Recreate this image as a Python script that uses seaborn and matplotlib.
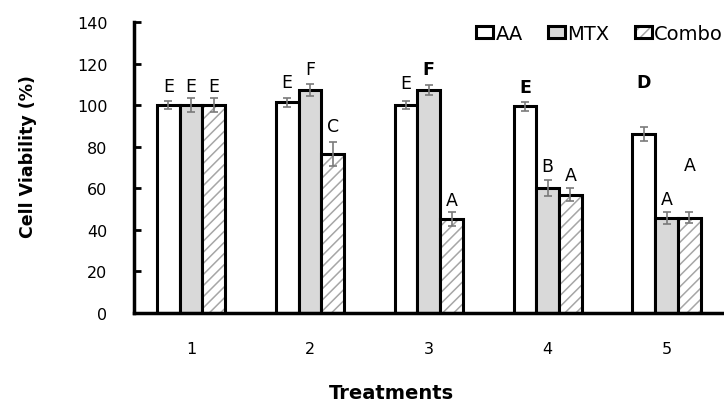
import numpy as np
import pandas as pd
import matplotlib
matplotlib.use("Agg")
import matplotlib.pyplot as plt
import matplotlib.colors as mcolors
import seaborn as sns

# ---- data ----
treatments = ["1", "2", "3", "4", "5"]
groups = ["AA", "MTX", "Combo"]
aa_vals = [100, 101.3, 100, 99.4, 86.1]
mtx_vals = [100, 107.3, 107.3, 60.3, 45.8]
combo_vals = [100, 76.5, 45.2, 56.9, 45.8]
aa_err = [1.8, 2.3, 1.8, 2.2, 3.3]
mtx_err = [3.2, 3.0, 2.5, 3.8, 3.0]
combo_err = [3.2, 5.8, 3.2, 3.1, 2.7]
aa_letters = ["E", "E", "E", "E", "D"]
mtx_letters = ["E", "F", "F", "B", "A"]
combo_letters = ["E", "C", "A", "A", "A"]
# annotation heights (text centre, % units)
aa_letter_y = [109.2, 111, 110.5, 108.7, 111]
mtx_letter_y = [109.2, 117.4, 117.4, 70.7, 54.8]
combo_letter_y = [109.2, 90, 54.4, 66.4, 71.2]
bold_letters = {(2, 1), (3, 0), (4, 0)}  # (treatment index, group index)
y_ticks = [0, 20, 40, 60, 80, 100, 120, 140]

df = pd.DataFrame({
    "Treatment": treatments * 3,
    "Group": [g for g in groups for _ in treatments],
    "Viability": aa_vals + mtx_vals + combo_vals,
})

sns.set_style("white")
plt.rcParams["font.family"] = ["DejaVu Sans"]
plt.rcParams["text.color"] = "black"
plt.rcParams["hatch.linewidth"] = 1.1

fig = plt.figure(figsize=(7.24, 4.02), dpi=100)
ax = fig.add_axes([134 / 724, 1 - 314 / 402, 592 / 724, 291 / 402])

sns.barplot(data=df, x="Treatment", y="Viability", hue="Group",
            order=treatments, hue_order=groups,
            palette=["white", "#d9d9d9", "white"], edgecolor="black",
            linewidth=2.2, width=0.575, gap=0, errorbar=None,
            legend=False, ax=ax, zorder=2)

bar_conts = list(ax.containers)
for p in bar_conts[2].patches:
    p.set_hatch("///")
    p.set_edgecolor("black")
    p._hatch_color = mcolors.to_rgba("#a6a6a6")

errs = [aa_err, mtx_err, combo_err]
letters = [aa_letters, mtx_letters, combo_letters]
letter_ys = [aa_letter_y, mtx_letter_y, combo_letter_y]
for gi, cont in enumerate(bar_conts):
    xs = [p.get_x() + p.get_width() / 2 for p in cont.patches]
    hs = [p.get_height() for p in cont.patches]
    ax.errorbar(xs, hs, yerr=errs[gi], fmt="none", ecolor="#7a7a7a",
                elinewidth=1.2, capsize=2.6, capthick=1.2, zorder=3)
    for ti, (x, ly, lt) in enumerate(zip(xs, letter_ys[gi], letters[gi])):
        ax.text(x, ly, lt, ha="center", va="center", fontsize=12.5,
                fontweight="bold" if (ti, gi) in bold_letters else "normal",
                color="black")

ax.set_ylim(0, 140)
ax.set_xlim(-0.48, 4.5)
ax.set_yticks(y_ticks)
ax.set_yticklabels([str(v) for v in y_ticks])
ax.tick_params(axis="y", direction="in", length=5, width=2, pad=19,
               labelsize=11.5, colors="black", left=True)
ax.tick_params(axis="x", length=0, pad=20, labelsize=11.5, colors="black")
for s in ["top", "right"]:
    ax.spines[s].set_visible(False)
for s in ["left", "bottom"]:
    ax.spines[s].set_linewidth(2.5)
    ax.spines[s].set_color("black")
ax.set_xlabel("")
ax.set_ylabel("")

fig.text(28 / 724, 1 - 157 / 402, "Cell Viability (%)", rotation=90,
         ha="center", va="center", fontsize=12.5, fontweight="bold",
         color="black", family=["Liberation Sans Narrow", "DejaVu Sans"])
fig.text(391 / 724, 1 - 399 / 402, "Treatments", ha="center",
         va="baseline", fontsize=14, fontweight="bold", color="black")

handles = [c.patches[0] for c in bar_conts]
leg = fig.legend(handles, groups, loc="upper left",
                 bbox_to_anchor=(476 / 724, 1 - 25 / 402), ncol=3,
                 frameon=False, fontsize=14, handlelength=0.88,
                 handleheight=0.6, handletextpad=0.12, columnspacing=1.3,
                 borderpad=0, borderaxespad=0)

fig.savefig("out.png", dpi=100)
